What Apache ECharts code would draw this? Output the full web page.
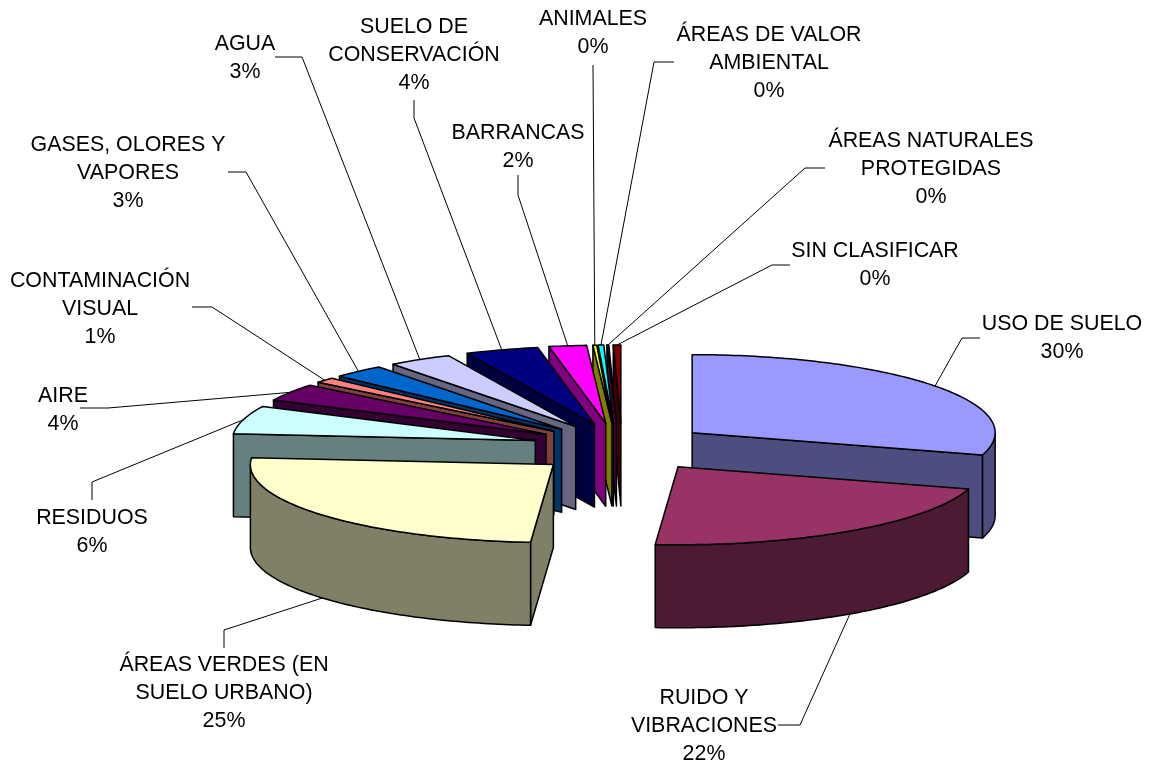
<!DOCTYPE html>
<html>
<head>
<meta charset="utf-8">
<title>Pie 3D</title>
<script src="https://cdn.jsdelivr.net/npm/echarts@6/dist/echarts.min.js"></script>
<style>
    html, body { margin: 0; padding: 0; background: #fff; }
    #chart { width: 1150px; height: 764px; }
</style>
</head>
<body>
<div id="chart"></div>
<script>
// Values are percentages (labels show them rounded).
var categories = [
    'USO DE SUELO', 'RUIDO Y\nVIBRACIONES', 'ÁREAS VERDES (EN\nSUELO URBANO)', 'RESIDUOS', 'AIRE',
    'CONTAMINACIÓN\nVISUAL', 'GASES, OLORES Y\nVAPORES', 'AGUA', 'SUELO DE\nCONSERVACIÓN', 'BARRANCAS',
    'ANIMALES', 'ÁREAS DE VALOR\nAMBIENTAL', 'ÁREAS NATURALES\nPROTEGIDAS', 'SIN CLASIFICAR'
];
var values = [29.6, 21.6, 25.2, 5.8, 3.6, 1.1, 2.8, 3.4, 3.9, 2.0, 0.2, 0.3, 0.1, 0.4];
var colors = [
    '#9999ff', '#993366', '#ffffcc', '#ccffff', '#660066', '#ff8080', '#0066cc',
    '#ccccff', '#000080', '#ff00ff', '#ffff00', '#00ffff', '#800080', '#800000'
];
// Back to front, so nearer slices cover the ones behind them.
var drawOrder = [13, 12, 11, 10, 9, 8, 7, 6, 5, 4, 3, 0, 2, 1];

// Label centre, then the elbow points of the leader line; the line's last
// point comes from the slice geometry.
var labelCentres = [
    [1062, 338], [704, 726], [224, 693], [92, 532], [63, 410], [100, 309], [128, 173],
    [245, 58], [414, 55], [518, 147], [593, 33], [769, 63], [931, 169], [875, 265]
];
var leaderPoints = [
    [[980, 338], [962, 338]], [[778, 725], [800, 725]], [[224, 648], [224, 630]],
    [[92, 500], [92, 482]], [[80, 408], [108, 408]], [[192, 307], [212, 307]],
    [[228, 172], [246, 172]], [[275, 57], [302, 57]], [[414, 100], [414, 118]],
    [[518, 175], [518, 195]], [[593, 65]], [[674, 62], [654, 62]],
    [[825, 168], [805, 168]], [[790, 265], [772, 265]]
];
// The original's perspective moves a few slices off the plain explosion.
var sliceNudge = {
    0: [-2, 0], 1: [5, 0], 2: [0, 2],
    9: [-5, 0], 10: [-5, 0], 11: [-5, 0], 12: [-3, 0]
};

var CENTER_X = 622, CENTER_Y = 447;
var RADIUS_X = 303, RADIUS_Y = 78, DEPTH = 83;
var EXPLODE_X = 90, EXPLODE_Y = 24;
var EDGE_WIDTH = 1.5;
var FONT = '"Liberation Sans", Arial, sans-serif';

var total = values.reduce(function (a, b) { return a + b; }, 0);
var slices = [];
(function () {
    var sum = 0;
    values.forEach(function (v, i) {
        var start = sum / total * Math.PI * 2;
        sum += v;
        var end = sum / total * Math.PI * 2;
        var mid = (start + end) / 2;
        var nudge = sliceNudge[i] || [0, 0];
        slices.push({
            start: start,
            end: end,
            mid: mid,
            tipX: CENTER_X + EXPLODE_X * Math.sin(mid) + nudge[0],
            tipY: CENTER_Y - EXPLODE_Y * Math.cos(mid) + nudge[1]
        });
    });
})();

// Angles run clockwise from 12 o'clock.
function rimPoint(s, a, drop) {
    return [s.tipX + RADIUS_X * Math.sin(a), s.tipY - RADIUS_Y * Math.cos(a) + (drop || 0)];
}

function arcPoints(s, from, to) {
    var pts = [];
    var n = Math.max(2, Math.ceil((to - from) / (Math.PI / 180)));
    for (var i = 0; i <= n; i++) {
        pts.push(rimPoint(s, from + (to - from) * i / n));
    }
    return pts;
}

function darken(hex) {
    var n = parseInt(hex.slice(1), 16);
    var r = Math.round((n >> 16) / 2), g = Math.round(((n >> 8) & 255) / 2), b = Math.round((n & 255) / 2);
    return 'rgb(' + r + ',' + g + ',' + b + ')';
}

function face(points, fill) {
    return {
        type: 'polygon',
        shape: { points: points },
        style: { fill: fill, stroke: '#000', lineWidth: EDGE_WIDTH, lineJoin: 'round' }
    };
}

function cutWall(s, a, fill) {
    var p = rimPoint(s, a);
    return face([[s.tipX, s.tipY], p, [p[0], p[1] + DEPTH], [s.tipX, s.tipY + DEPTH]], fill);
}

function renderSlice(params, api) {
    var i = api.value(0);
    var s = slices[i];
    var wall = darken(colors[i]);
    var children = [];
    if (s.start > Math.PI) children.push(cutWall(s, s.start, wall));
    if (s.end < Math.PI) children.push(cutWall(s, s.end, wall));
    var from = Math.max(s.start, Math.PI / 2), to = Math.min(s.end, Math.PI * 1.5);
    if (to > from) {
        var top = arcPoints(s, from, to);
        var bottom = top.map(function (p) { return [p[0], p[1] + DEPTH]; }).reverse();
        children.push(face(top.concat(bottom), wall));
    }
    children.push(face([[s.tipX, s.tipY]].concat(arcPoints(s, s.start, s.end)), colors[i]));
    return { type: 'group', children: children };
}

function renderLabel(params, api) {
    var i = api.value(0);
    var s = slices[i];
    // Slices whose rim faces the viewer take the leader on the wall's lower edge.
    var front = Math.cos(s.mid) < 0;
    var line = leaderPoints[i].concat([rimPoint(s, s.mid, front ? DEPTH : 0)]);
    return {
        type: 'group',
        children: [{
            type: 'polyline',
            shape: { points: line },
            style: { fill: null, stroke: '#000', lineWidth: 1 }
        }, {
            type: 'text',
            style: {
                text: categories[i] + '\n' + Math.round(api.value(1) / total * 100) + '%',
                x: labelCentres[i][0],
                y: labelCentres[i][1],
                align: 'center',
                verticalAlign: 'middle',
                fill: '#000',
                fontFamily: FONT,
                fontSize: 21.4,
                lineHeight: 27.7
            }
        }]
    };
}

var chart = echarts.init(document.getElementById('chart'), null, { renderer: 'canvas' });
chart.setOption({
    backgroundColor: '#fff',
    animation: false,
    series: [
        {
            type: 'custom',
            coordinateSystem: 'none',
            silent: true,
            z: 1,
            renderItem: renderLabel,
            data: values.map(function (v, i) { return [i, v]; })
        },
        {
            type: 'custom',
            coordinateSystem: 'none',
            silent: true,
            z: 2,
            renderItem: renderSlice,
            data: drawOrder.map(function (i) { return [i, values[i]]; })
        }
    ]
});
</script>
</body>
</html>
